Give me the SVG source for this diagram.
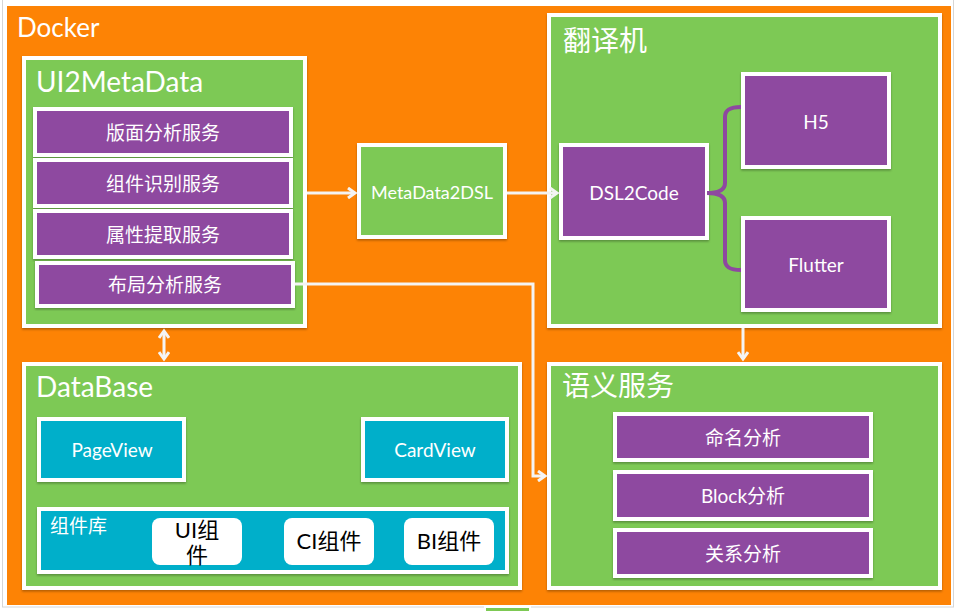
<svg xmlns="http://www.w3.org/2000/svg" width="960" height="611" viewBox="0 0 960 611">
<style>
text{font-family:"Lato","Noto Sans CJK SC",sans-serif;}
.t{fill:#fff;}
.title{fill:#fff;font-size:28px;}
.lbl{fill:#fff;font-size:19px;text-anchor:middle;dominant-baseline:central;}
.blk{fill:#000;font-size:22px;text-anchor:middle;}
.grn{fill:#7dc954;stroke:#fff;stroke-width:4;filter:url(#sh);}
.pur{fill:#8e48a0;stroke:#fff;stroke-width:4;filter:url(#sh);}
.cyn{fill:#04afca;stroke:#fff;stroke-width:4;filter:url(#sh);}
.wb{fill:#fff;}
.con{fill:none;stroke:#f4f4f4;stroke-width:3;}
</style>
<defs>
<filter id="sh" x="-5%" y="-5%" width="110%" height="115%">
<feDropShadow dx="0" dy="1.5" stdDeviation="1.2" flood-color="#000" flood-opacity="0.3"/>
</filter>
<marker id="ah" markerWidth="12" markerHeight="12" refX="9" refY="6" orient="auto" markerUnits="userSpaceOnUse">
<path d="M2,1 L9,6 L2,11" fill="none" stroke="#f4f4f4" stroke-width="3"/>
</marker>
<marker id="as" markerWidth="12" markerHeight="12" refX="9" refY="6" orient="auto-start-reverse" markerUnits="userSpaceOnUse">
<path d="M2,1 L9,6 L2,11" fill="none" stroke="#f4f4f4" stroke-width="3"/>
</marker>
</defs>
<rect x="0" y="0" width="960" height="611" fill="#fff"/>
<rect x="2.5" y="-5" width="951" height="612" fill="none" stroke="#d6d6d6" stroke-width="1"/>
<rect x="485" y="607" width="45" height="10" fill="#7dc954" stroke="#fff" stroke-width="2"/>
<g id="docker">
<rect x="7" y="6" width="944" height="599" fill="#fd8305"/>
<text class="t" x="17" y="37" font-size="26">Docker</text>
</g>
<g id="ui2metadata">
<rect class="grn" x="24" y="58" width="281" height="268"/>
<text class="title" x="36" y="92">UI2MetaData</text>
</g>
<g id="banmian"><rect class="pur" x="35" y="109" width="256" height="46"/><text class="lbl" x="163" y="132">版面分析服务</text></g>
<g id="zujian"><rect class="pur" x="35" y="160" width="256" height="46"/><text class="lbl" x="163" y="183">组件识别服务</text></g>
<g id="shuxing"><rect class="pur" x="35" y="211" width="256" height="46"/><text class="lbl" x="163" y="234">属性提取服务</text></g>
<g id="buju"><rect class="pur" x="37" y="263" width="256" height="43"/><text class="lbl" x="165" y="284">布局分析服务</text></g>
<g id="metadata2dsl"><rect class="grn" x="359" y="145" width="146" height="92"/><text class="lbl" x="432" y="192" style="font-size:18px">MetaData2DSL</text></g>
<g id="fanyiji">
<rect class="grn" x="549" y="15" width="391" height="311"/>
<text class="title" x="563" y="51">翻译机</text>
</g>
<g id="dsl2code"><rect class="pur" x="561" y="145" width="146" height="93"/><text class="lbl" x="634" y="192">DSL2Code</text></g>
<g id="h5"><rect class="pur" x="743" y="74" width="146" height="93"/><text class="lbl" x="816" y="121">H5</text></g>
<g id="flutter"><rect class="pur" x="743" y="218" width="146" height="92"/><text class="lbl" x="816" y="264">Flutter</text></g>
<g id="yuyi">
<rect class="grn" x="549" y="364" width="391" height="224"/>
<text class="title" x="562" y="396">语义服务</text>
</g>
<g id="mingming"><rect class="pur" x="615" y="414" width="256" height="46"/><text class="lbl" x="743" y="437">命名分析</text></g>
<g id="block"><rect class="pur" x="615" y="472" width="256" height="47"/><text class="lbl" x="743" y="495">Block分析</text></g>
<g id="guanxi"><rect class="pur" x="615" y="530" width="256" height="46"/><text class="lbl" x="743" y="553">关系分析</text></g>
<g id="database">
<rect class="grn" x="24" y="364" width="496" height="224"/>
<text class="title" x="36" y="397">DataBase</text>
</g>
<g id="pageview"><rect class="cyn" x="39" y="419" width="145" height="61"/><text class="lbl" x="112" y="449">PageView</text></g>
<g id="cardview"><rect class="cyn" x="363" y="419" width="144" height="61"/><text class="lbl" x="435" y="449">CardView</text></g>
<g id="zujianku">
<rect class="cyn" x="39" y="509" width="468" height="63"/>
<text class="t" x="50" y="533" font-size="19">组件库</text>
</g>
<g id="ui"><rect class="wb" x="152" y="518" width="90" height="47" rx="8"/><text class="blk" x="197" y="538">UI组</text><text class="blk" x="197" y="563">件</text></g>
<g id="ci"><rect class="wb" x="284" y="518" width="90" height="47" rx="8"/><text class="blk" x="329" y="549">CI组件</text></g>
<g id="bi"><rect class="wb" x="404" y="518" width="90" height="47" rx="8"/><text class="blk" x="449" y="549">BI组件</text></g>
<g id="connectors">
<path class="con" d="M307,193 H355" marker-end="url(#ah)"/>
<path class="con" d="M507,193 H557" marker-end="url(#ah)"/>
<path class="con" d="M295,284 H533 V476 H545" marker-end="url(#ah)"/>
<path class="con" d="M743,328 V359" marker-end="url(#ah)"/>
<path class="con" d="M164,331 V359" marker-start="url(#as)" marker-end="url(#as)"/>
<path d="M707,193 C718,193 725,190 725,183 V117 C725,110 730,107 741,107 M707,193 C718,193 725,196 725,203 V260 C725,267 730,270 741,270" fill="none" stroke="#8e48a0" stroke-width="4"/>
</g>
</svg>
